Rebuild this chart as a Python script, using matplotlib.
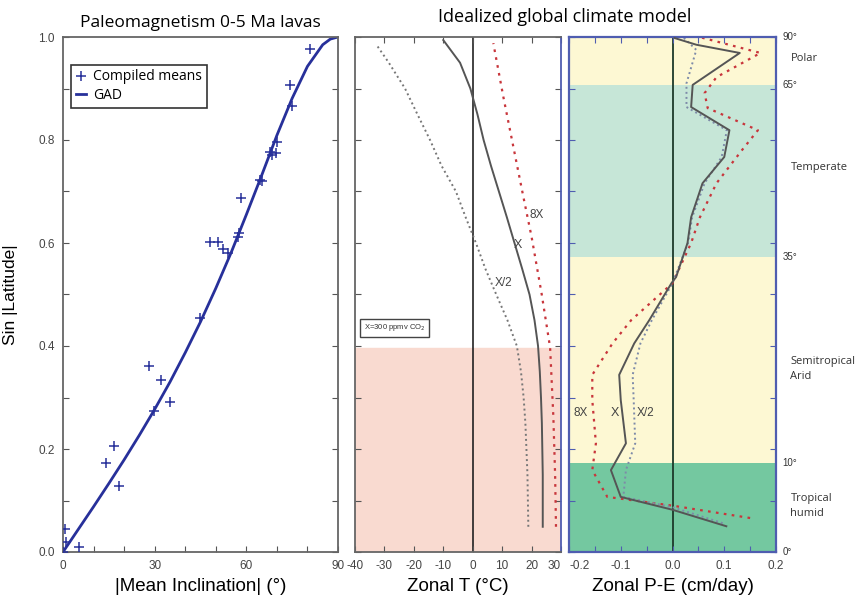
import numpy as np
import matplotlib
matplotlib.use('Agg')
import matplotlib.pyplot as plt
from matplotlib.ticker import MultipleLocator

plt.rcParams['font.family'] = ['Liberation Sans Narrow', 'Liberation Sans', 'DejaVu Sans']
plt.rcParams['axes.unicode_minus'] = False

# ---- panel 1: paleomagnetism ----
incl_means = [80.8, 74.3, 74.8, 69.9, 67.9, 69.7, 68.3, 64.5, 65.0, 58.1, 57.7, 57.4,
              48.1, 50.8, 52.3, 54.1, 44.8, 28.1, 32.1, 35.0, 29.9, 16.8, 14.1, 18.3,
              0.75, 5.3, 1.0, 0.0]
sinlat_means = [0.976, 0.907, 0.866, 0.797, 0.777, 0.774, 0.770, 0.722, 0.720, 0.687, 0.619, 0.611,
                0.601, 0.601, 0.588, 0.580, 0.454, 0.361, 0.334, 0.291, 0.274, 0.206, 0.173, 0.128,
                0.045, 0.010, 0.020, 0.000]
gad_incl = [0, 5, 10, 15, 20, 25, 30, 35, 40, 45, 50, 55, 60, 65, 70, 75, 80, 85, 87.5, 90]
gad_sinlat = [0.0, 0.044, 0.088, 0.133, 0.179, 0.227, 0.277, 0.330, 0.387, 0.447, 0.512,
              0.581, 0.655, 0.731, 0.809, 0.881, 0.943, 0.985, 0.996, 1.0]

# ---- panel 2: zonal temperature ----
t_lat_x = [0.049, 0.15, 0.25, 0.3, 0.35, 0.4, 0.45, 0.5, 0.55, 0.6, 0.65, 0.7, 0.75, 0.8, 0.85, 0.9, 0.95, 0.994]
t_x = [23.8, 23.8, 23.5, 23.2, 22.8, 22.2, 21.0, 19.3, 16.8, 14.2, 11.6, 8.9, 6.2, 3.7, 1.6, -0.8, -4.3, -10.0]
t_lat_half = [0.049, 0.15, 0.25, 0.3, 0.35, 0.4, 0.45, 0.5, 0.55, 0.6, 0.65, 0.7, 0.75, 0.8, 0.85, 0.9, 0.95, 0.984]
t_half = [18.9, 18.6, 17.9, 17.3, 16.4, 15.0, 11.8, 8.0, 4.3, 1.1, -2.4, -5.7, -10.6, -14.5, -18.8, -23.0, -28.5, -32.6]
t_lat_8x = [0.049, 0.15, 0.263, 0.397, 0.502, 0.612, 0.69, 0.787, 0.884, 0.988]
t_8x = [28.3, 28.0, 27.4, 26.3, 23.4, 20.0, 17.2, 13.8, 10.4, 7.0]

# ---- panel 3: zonal P-E ----
pe_lat_x = [0.05, 0.082, 0.107, 0.159, 0.211, 0.295, 0.344, 0.405, 0.45, 0.522, 0.534, 0.6,
            0.65, 0.716, 0.767, 0.819, 0.864, 0.907, 0.969, 0.985, 0.998]
pe_x = [0.104, 0.0, -0.1, -0.119, -0.09, -0.1, -0.103, -0.074, -0.045, -0.002, 0.007, 0.029,
        0.036, 0.058, 0.10, 0.11, 0.036, 0.039, 0.13, 0.046, 0.004]
pe_lat_half = [0.056, 0.087, 0.107, 0.159, 0.211, 0.295, 0.344, 0.405, 0.45, 0.522, 0.6, 0.65,
               0.716, 0.767, 0.819, 0.864, 0.91, 0.975, 1.0]
pe_half = [0.097, 0.0, -0.095, -0.09, -0.072, -0.075, -0.077, -0.062, -0.04, 0.0, 0.03, 0.038,
           0.062, 0.095, 0.105, 0.027, 0.027, 0.046, 0.02]
pe_lat_8x = [0.066, 0.09, 0.107, 0.159, 0.211, 0.295, 0.344, 0.405, 0.45, 0.522, 0.6, 0.65,
             0.716, 0.78, 0.819, 0.862, 0.891, 0.922, 0.969, 1.0]
pe_8x = [0.15, 0.0, -0.126, -0.155, -0.148, -0.155, -0.155, -0.116, -0.08, 0.0, 0.036, 0.053,
         0.085, 0.134, 0.165, 0.068, 0.062, 0.085, 0.17, 0.052]

zone_lats = [0, 10, 35, 65, 90]
zone_colors = ['#74c8a0', '#fdf8d3', '#c6e6d7', '#fdf8d3']
zone_names = ['Polar', 'Temperate', 'Semitropical\nArid', 'Tropical\nhumid']
zone_name_y = [0.959, 0.746, 0.355, 0.089]

navy = '#27309a'
blue_spine = '#4f5db0'
tick_col = '#444444'

fig = plt.figure(figsize=(8.6, 6.16), dpi=100)
H = 616.0
W = 860.0
def box(l, r, t, b):
    return [l / W, (H - b) / H, (r - l) / W, (b - t) / H]

ax1 = fig.add_axes(box(63, 338, 37, 552))
ax2 = fig.add_axes(box(355, 561, 37, 552))
ax3 = fig.add_axes(box(569, 776, 37, 552))

for ax in (ax1, ax2, ax3):
    ax.tick_params(direction='in', length=4, width=0.8, labelsize=8.5, colors='#555555',
                   labelcolor=tick_col, right=True, pad=6)
    ax.yaxis.set_minor_locator(MultipleLocator(0.1))
    ax.tick_params(which='minor', direction='in', length=4, width=0.8, right=True, colors='#555555')
    ax.set_ylim(0, 1)
    for s in ax.spines.values():
        s.set_color('#666666')
        s.set_linewidth(1.3)

# panel 1
ax1.plot(gad_incl, gad_sinlat, color=navy, lw=2, label='GAD', zorder=2)
ax1.plot(incl_means, sinlat_means, '+', color=navy, ms=7, mew=1.1, label='Compiled means', zorder=3)
ax1.set_xlim(0, 90)
ax1.set_xticks([0, 30, 60, 90])
ax1.xaxis.set_minor_locator(MultipleLocator(10))
ax1.tick_params(which='minor', axis='x', top=False)
ax1.set_yticks([0, 0.2, 0.4, 0.6, 0.8, 1.0])
ax1.set_yticklabels(['0.0', '0.2', '0.4', '0.6', '0.8', '1.0'])
h, l = ax1.get_legend_handles_labels()
leg = ax1.legend(h[::-1], l[::-1], loc='upper left', bbox_to_anchor=(0.005, 0.96),
                 fancybox=False, edgecolor='#333333', framealpha=1, handlelength=0.7,
                 handletextpad=0.5, borderpad=0.35, labelspacing=0.25,
                 prop={'family': 'Open Sans', 'size': 10})
leg.get_frame().set_linewidth(1.2)
ax1.set_xlabel('|Mean Inclination| (°)', fontsize=13.5, labelpad=4)
ax1.set_ylabel('Sin |Latitude|', fontsize=12.5, family=['Liberation Sans', 'DejaVu Sans'])
ax1.yaxis.set_label_coords(-0.165, 0.5)
ax1.set_title('Paleomagnetism 0-5 Ma lavas', fontsize=12.5, family='Open Sans', pad=7)

# panel 2
ax2.axhspan(0, 0.397, color='#f9dad0', zorder=0)
ax2.axvline(0, color='#222222', lw=1.2, zorder=1)
ax2.plot(t_x, t_lat_x, color='#555555', lw=1.4, zorder=2)
ax2.plot(t_half, t_lat_half, color='#777777', lw=1.4, ls=(0, (1, 1.6)), zorder=2)
ax2.plot(t_8x, t_lat_8x, color='#c8353b', lw=1.6, ls=(0, (1.2, 2.4)), zorder=2)
ax2.text(21.7, 0.654, '8X', fontsize=8.5, color='#444444', ha='center', va='center')
ax2.text(15.5, 0.596, 'X', fontsize=9, color='#444444', ha='center', va='center')
ax2.text(10.6, 0.522, 'X/2', fontsize=8.5, color='#444444', ha='center', va='center')
ax2.text(-37, 0.435, 'X=300 ppmv CO$_2$', fontsize=5.5, color='#333333', va='center',
         bbox=dict(boxstyle='square,pad=0.5', fc='white', ec='#444444', lw=1))
ax2.set_xlim(-40, 30)
ax2.set_xticks(range(-40, 31, 10))
ax2.tick_params(axis='x', top=True)
ax2.set_yticks([])
ax2.spines['right'].set_color(blue_spine)
ax2.set_xlabel('Zonal T (°C)', fontsize=13.5, labelpad=4)

# panel 3
edges = np.sin(np.radians(zone_lats))
for i, c in enumerate(zone_colors):
    ax3.axhspan(edges[i], edges[i + 1], color=c, zorder=0, lw=0)
ax3.axvline(0, color='#1d3a2a', lw=1.3, zorder=1)
ax3.plot(pe_8x, pe_lat_8x, color='#c8353b', lw=1.6, ls=(0, (1.2, 2.4)), zorder=2)
ax3.plot(pe_half, pe_lat_half, color='#7d8aa8', lw=1.4, ls=(0, (1, 1.6)), zorder=2)
ax3.plot(pe_x, pe_lat_x, color='#555555', lw=1.4, zorder=3)
ax3.text(-0.177, 0.269, '8X', fontsize=8.5, color='#444444', ha='center', va='center')
ax3.text(-0.111, 0.269, 'X', fontsize=9, color='#444444', ha='center', va='center')
ax3.text(-0.052, 0.269, 'X/2', fontsize=8.5, color='#444444', ha='center', va='center')
ax3.set_xlim(-0.2, 0.2)
ax3.set_xticks([-0.2, -0.1, 0.0, 0.1, 0.2])
ax3.set_xticklabels(['-0.2', '-0.1', '0.0', '0.1', '0.2'])
ax3.xaxis.set_minor_locator(MultipleLocator(0.05))
ax3.tick_params(axis='x', which='both', top=True)
ax3.tick_params(which='both', colors=blue_spine, labelcolor=tick_col)
ax3.set_yticks([])
for s in ax3.spines.values():
    s.set_color(blue_spine)
    s.set_linewidth(1.6)
ax3.set_xlabel('Zonal P-E (cm/day)', fontsize=13.5, labelpad=4)

# keep the adjoining end labels ("30" and "-0.2") apart, as in the original
ax2.get_xticklabels()[-1].set_horizontalalignment('right')
ax3.get_xticklabels()[0].set_horizontalalignment('left')

yt = ax3.get_yaxis_transform()
for lat, e in zip(zone_lats, edges):
    ax3.text(1.03, e, f'{lat}°', transform=yt, fontsize=7, color='#333333', va='center', ha='left')
for name, y in zip(zone_names, zone_name_y):
    ax3.text(1.07, y, name, transform=yt, fontsize=8, color='#333333', va='center', ha='left',
             linespacing=1.5, family='Open Sans')

fig.text(565 / W, 1 - 17 / H, 'Idealized global climate model', fontsize=13, family='Open Sans',
         ha='center', va='center')

fig.savefig('out.png', dpi=100)
